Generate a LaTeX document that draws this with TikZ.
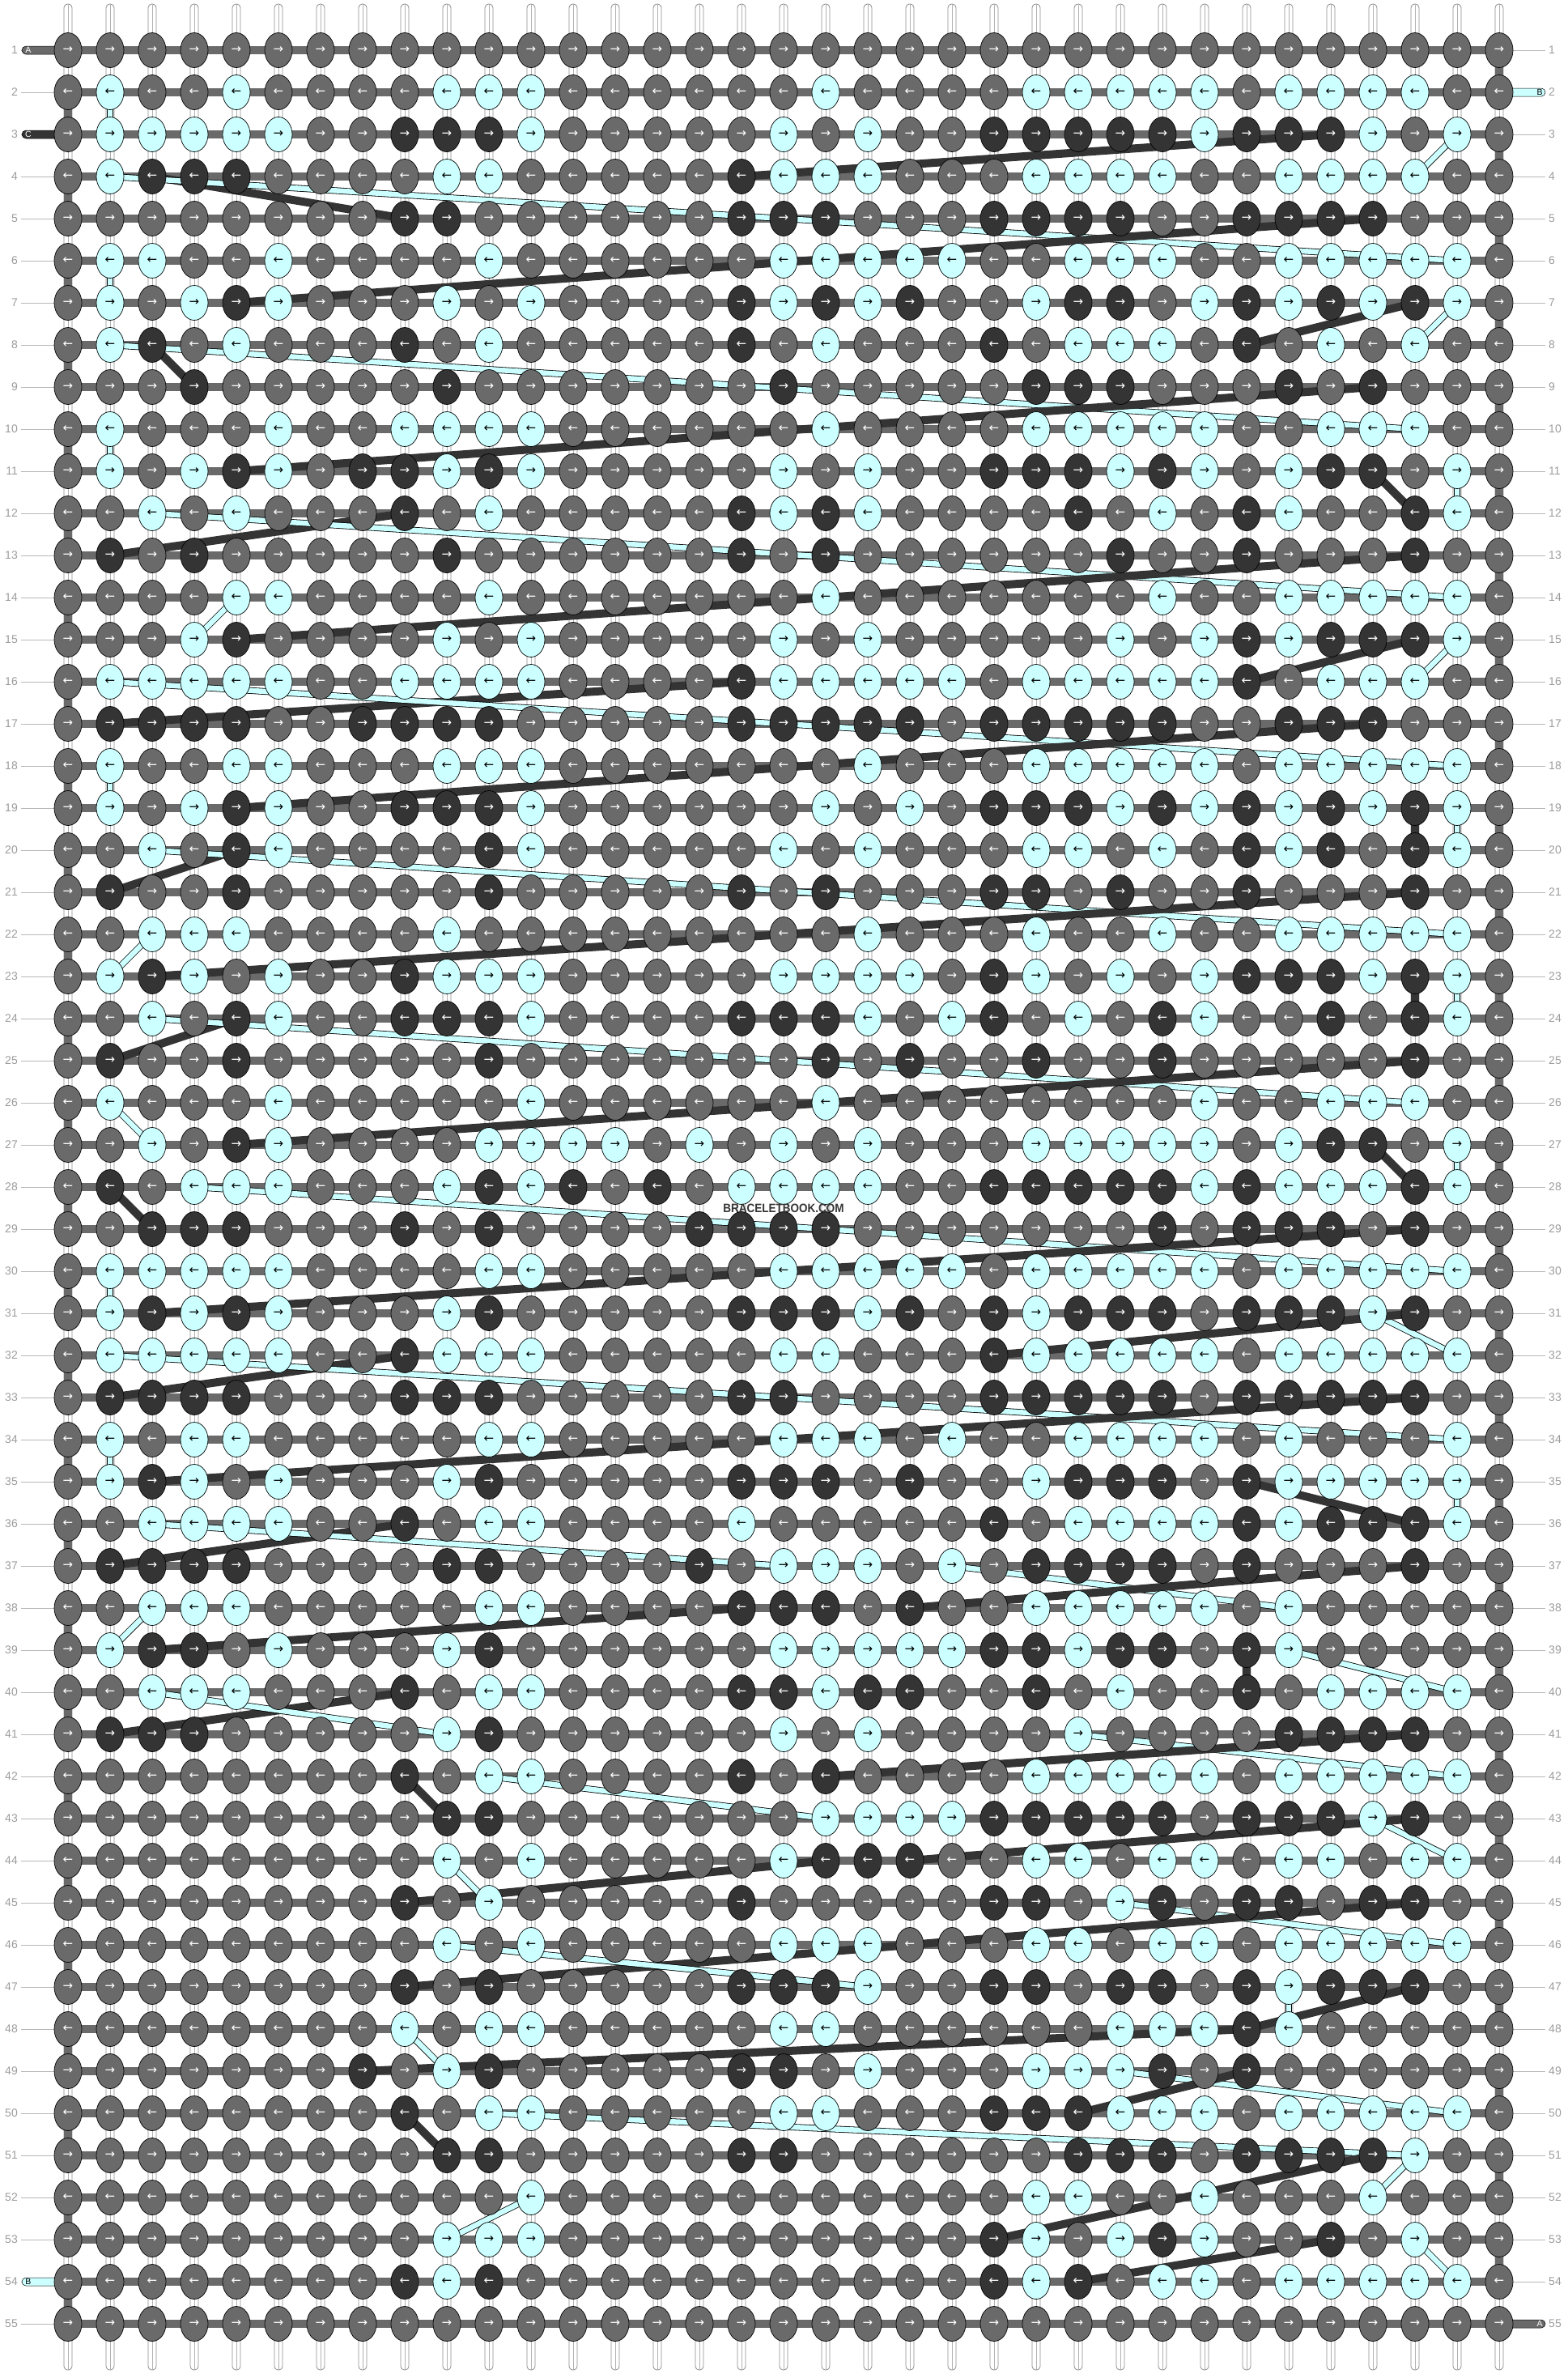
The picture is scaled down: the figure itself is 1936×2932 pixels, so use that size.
\documentclass[tikz,border=0pt]{standalone}
\usepackage{fontspec}
\setmainfont{Liberation Sans}
\newfontfamily\arrowfont{DejaVu Sans}
\usetikzlibrary{shapes.geometric}
\definecolor{kgrey}{HTML}{6A6A6A}
\definecolor{kdark}{HTML}{343434}
\definecolor{kcyan}{HTML}{CCFFFF}
\definecolor{lblgrey}{HTML}{9C9C9C}
\definecolor{guidegrey}{HTML}{B8B8B8}
\pgfdeclarelayer{bg}
\pgfdeclarelayer{mid}
\pgfsetlayers{bg,mid,main}
\newcount\kcount
\def\parsechars#1{\ifx\relax#1\else\global\advance\kcount by 1 \expandafter\xdef\csname K\currow-\the\kcount\endcsname{#1}\expandafter\parsechars\fi}
\def\parserow#1#2{\def\currow{#1}\global\kcount=0 \parsechars#2\relax}
\parserow{1}{..... ..... ..... ..... ..... ..... .....}
\parserow{2}{.b..b ....b bb... ...b. ...bb bbb.b bbb..}
\parserow{3}{.bbbb b..dd db... ..b.b ..ddd ddbdd db.b.}
\parserow{4}{.bddd ....b b.... .dbbb ...bb bb..b bbb..}
\parserow{5}{..... ...dd ..... .ddd. ..ddd d..dd dd...}
\parserow{6}{.bb.. b.... b.... ..bbb bb..b bb..b bbbb.}
\parserow{7}{.b.bd b...b .b... .dbdb d..bd d.bdb dbdb.}
\parserow{8}{.bd.b ...d. b.... .d.b. ..d.b bb.d. b.b..}
\parserow{9}{...d. ....d ..... ..d.. ...dd d...d .d...}
\parserow{10}{.b... b..bb bb... ...b. ...bb bbb.. bbb..}
\parserow{11}{.b.bd b.ddb db... ..b.b ..ddd bdb.b dd.b.}
\parserow{12}{..b.b ...d. b.... .dbdb ....d .b.db ..db.}
\parserow{13}{.d.d. ....d ..... .d.d. ..... d..d. ..d..}
\parserow{14}{....b b.... b.... ...b. ..... .b..b bbbb.}
\parserow{15}{...bd ....b .b... ..b.b ..... b.bdb dddb.}
\parserow{16}{.bbbb b..bb bb... .dbbb bb.bb bbbd. bbb..}
\parserow{17}{.dddd ..ddd d.... .dddd d.ddd dd..d dd...}
\parserow{18}{.b..b b...b bb... ....b ...bb bbb.b bbbb.}
\parserow{19}{.b.bd b..dd db... ...b. b.ddd bdbdb dbdb.}
\parserow{20}{..b.d b.... db... ..b.b ...bb .b.db d.db.}
\parserow{21}{.d..d ..... d.... .d.d. ..dd. d..d. ..d..}
\parserow{22}{..bbb ....b ..... ....b ...b. .b..b bbbb.}
\parserow{23}{.bdb. b..db bb... ..bbb b.db. b.bdd dbdb.}
\parserow{24}{..b.d b..dd db... .dddb .bd.b .db.. d.db.}
\parserow{25}{.d..d ..... d.... ...d. d..d. .d... ..d..}
\parserow{26}{.b... b.... .b... ...b. ..... ..b.. bbb..}
\parserow{27}{..b.d b.... bbbb. b.b.b ...bb bbb.b dd.b.}
\parserow{28}{.d.bb b...b dbd.d .bbbb ..ddd ddbdb bbdb.}
\parserow{29}{..ddd ...d. d.... dddd. ..... .d.dd d.d..}
\parserow{30}{.bbbb b.... bb... ..bbb bb.bb bbb.b bbbb.}
\parserow{31}{.bdbd b...b d.... .dddb d.dbd dd.dd dbd..}
\parserow{32}{.bbbb b..db bb... ..bb. ..dbb bbb.b bbbb.}
\parserow{33}{.dddd ...dd d.... .dd.. ..ddd dd.dd ddd..}
\parserow{34}{.b.bb ..... bb... ..bbb .b..b bbb.b ...b.}
\parserow{35}{.bdb. b...b d.... .ddd. d..bd dd.db bbbb.}
\parserow{36}{..bbb b..d. bb... .b... ..d.b bbbdb dddb.}
\parserow{37}{.dddd ....d d.... d.bbb .b.dd dd.d. ..d..}
\parserow{38}{..bbb ..... bb... .ddd. d..bb bbb.b .....}
\parserow{39}{.bdd. b...b d.... ..bbb bbddb dd.db .....}
\parserow{40}{..bbb ...d. bb... .ddbd d..d. b..d. bbbb.}
\parserow{41}{.ddd. ....b d.... ..b.b ....b ....d ddd..}
\parserow{42}{..... ...d. bb... .d.d. ...bb bbb.b bbbb.}
\parserow{43}{..... ....d d.... ...bb bbddd dd.dd dbd..}
\parserow{44}{..... ....b .b... ..bdd d..bb .bb.b b.bb.}
\parserow{45}{..... ...d. b.... .d... ..dd. bd.dd .dd..}
\parserow{46}{..... ....b .b... ..bbb ...bb .bb.b bbbb.}
\parserow{47}{..... ...d. d.... .dddb ..dd. dd.db ddd..}
\parserow{48}{..... ...b. bb... ..bb. ..... bbbdb .....}
\parserow{49}{..... ..d.b d.... .dd.b ...bb bd.d. .....}
\parserow{50}{..... ...d. bb... ..bb. ..ddd bbb.b bbbb.}
\parserow{51}{..... ....d d.... .dd.. ....d dd.dd ddb..}
\parserow{52}{..... ..... .b... ..... ...bb ..b.. .b...}
\parserow{53}{..... ....b bb... ..... ..db. bdb.. d.b..}
\parserow{54}{..... ...db d.... ..... ..dbd .bb.b bbbb.}
\parserow{55}{..... ..... ..... ..... ..... ..... .....}
\def\knB{b}
\def\knD{d}
\begin{document}
\begin{tikzpicture}[x=1pt,y=1pt,
  knot/.style={ellipse,draw=black,line width=0.7pt,minimum width=34pt,minimum height=43pt,inner sep=0pt,font=\arrowfont\fontsize{15}{15}\selectfont},
  kg/.style={knot,fill=kgrey,text=white},
  kb/.style={knot,fill=kcyan,text=black},
  kdk/.style={knot,fill=kdark,text=white},
  cline/.style={draw=black,line width=0.8pt,double=kcyan,double distance=6.5pt},
  dline/.style={draw=kdark,line width=10pt},
  vstr/.style={fill=white,draw=black!45,line width=0.8pt,rounded corners=4.5pt},
  hbar/.style={fill=kgrey},
  turn/.style={fill=kgrey},
  guide/.style={draw=guidegrey,line width=1pt},
  lbl/.style={text=lblgrey,font=\fontsize{14}{14}\selectfont,inner sep=0pt},
  tail/.style={draw=black,line width=0.5pt,rounded corners=5pt},
  taillbl/.style={font=\fontsize{10.5}{10.5}\selectfont,inner sep=0pt}]
\useasboundingbox (0,0) rectangle (1936,-2932);
% knots
\foreach \r in {1,...,55}{
  \pgfmathtruncatemacro\yy{-62-52*(\r-1)}
  \ifodd\r\relax\def\arr{→}\else\def\arr{←}\fi
  \foreach \c in {1,...,35}{
    \pgfmathtruncatemacro\xx{84+52*(\c-1)}
    \edef\kc{\csname K\r-\c\endcsname}
    \ifx\kc\knB \node[kb] (k-\r-\c) at (\xx,\yy) {\arr};
    \else\ifx\kc\knD \node[kdk] (k-\r-\c) at (\xx,\yy) {\arr};
    \else \node[kg] (k-\r-\c) at (\xx,\yy) {\arr};
    \fi\fi
  }
}
% background: strings, bars, labels, tails
\begin{pgfonlayer}{bg}
\foreach \c in {1,...,35}{
  \pgfmathtruncatemacro\xx{84+52*(\c-1)}
  \draw[vstr] (\xx-5,-5) rectangle (\xx+5,-2927);
  \draw[draw=black!30,line width=0.5pt] (\xx,-5) -- (\xx,-2927);
}
\foreach \r in {1,...,55}{
  \pgfmathtruncatemacro\yy{-62-52*(\r-1)}
  \fill[hbar] (84,\yy+5) rectangle (1852,\yy-5);
}
\foreach \r in {2,4,...,54}{
  \pgfmathtruncatemacro\yy{-62-52*(\r-1)}
  \fill[turn] (79,\yy) rectangle (89,\yy-52);
}
\foreach \r in {1,3,...,53}{
  \pgfmathtruncatemacro\yy{-62-52*(\r-1)}
  \fill[turn] (1847,\yy) rectangle (1857,\yy-52);
}
\foreach \r in {1,...,55}{
  \pgfmathtruncatemacro\yy{-62-52*(\r-1)}
  \draw[guide] (26,\yy) -- (k-\r-1.west);
  \draw[guide] (k-\r-35.east) -- (1909,\yy);
}
\draw[tail,fill=kgrey] (27,-57) rectangle (84,-67);
\draw[tail,fill=kdark] (27,-161) rectangle (84,-171);
\draw[tail,fill=kcyan] (27,-2813) rectangle (84,-2823);
\draw[tail,fill=kcyan] (1852,-109) rectangle (1909,-119);
\draw[tail,fill=kgrey] (1852,-2865) rectangle (1909,-2875);
\end{pgfonlayer}
\foreach \r in {1,...,55}{
  \pgfmathtruncatemacro\yy{-62-52*(\r-1)}
  \node[lbl,anchor=east] (ll-\r) at (22,\yy) {\r};
  \node[lbl,anchor=west] (rl-\r) at (1913,\yy) {\r};
}
\node[taillbl,text=white] (tA1) at (35,-62) {A};
\node[taillbl,text=white] (tC3) at (35,-166) {C};
\node[taillbl,text=black] (tB54) at (35,-2818) {B};
\node[taillbl,text=black] (tB2) at (1902,-114) {B};
\node[taillbl,text=white] (tA55) at (1902,-2870) {A};
% carried strings
\gdef\lbr{2}\gdef\lbc{35}\gdef\ldr{3}\gdef\ldc{1}
\foreach \r in {1,...,55}{
  \ifodd\r\relax\def\clist{1,...,35}\else\def\clist{35,34,...,1}\fi
  \foreach \c in \clist{
    \edef\kc{\csname K\r-\c\endcsname}
    \ifx\kc\knB
      \ifnum\lbr=\r\relax\else
        \begin{pgfonlayer}{mid}\draw[cline] (k-\lbr-\lbc.center) -- (k-\r-\c.center);\end{pgfonlayer}
      \fi
      \xdef\lbr{\r}\xdef\lbc{\c}
    \fi
    \ifx\kc\knD
      \ifnum\ldr=\r\relax\else
        \begin{pgfonlayer}{mid}\draw[dline] (k-\ldr-\ldc.center) -- (k-\r-\c.center);\end{pgfonlayer}
      \fi
      \xdef\ldr{\r}\xdef\ldc{\c}
    \fi
  }
}
\node[font=\bfseries\fontsize{15}{15}\selectfont,text=kdark,inner sep=0pt] (wm) at (968,-1492) {\scalebox{0.9}[1]{BRACELETBOOK.COM}};
\end{tikzpicture}
\end{document}
